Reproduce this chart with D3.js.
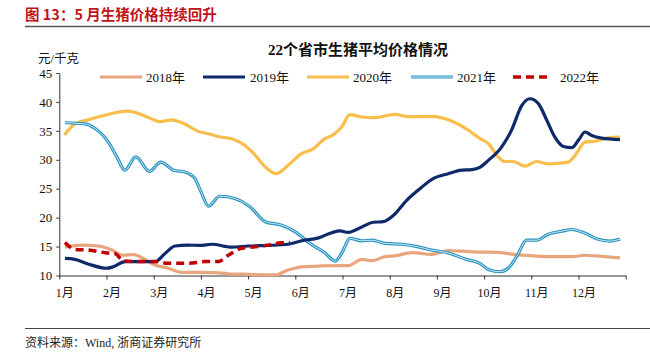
<!DOCTYPE html>
<html><head><meta charset="utf-8">
<script src="https://cdn.jsdelivr.net/npm/d3@7/dist/d3.min.js"></script>
<style>body{margin:0;background:#fff}svg{display:block}</style>
</head><body><svg id="c" width="650" height="360"></svg>
<script>
// month position (0 = start of Jan, 12 = end of Dec) and price (元/千克)
const monthLabels = ["1月","2月","3月","4月","5月","6月","7月","8月","9月","10月","11月","12月"];
const yTicks = [10,15,20,25,30,35,40,45];
const seriesNames = ["2018年","2019年","2020年","2021年","2022年"];

const x2018 = [0.12,0.47,0.83,1.07,1.36,1.57,1.78,2.03,2.31,2.59,2.98,3.3,3.58,4.0,4.57,4.85,5.14,5.56,5.95,6.12,6.41,6.62,6.9,7.11,7.47,7.89,8.24,8.53,8.91,9.3,9.58,9.87,10.36,10.86,11.14,11.49,11.88];
const y2018 = [14.95,15.25,15.1,14.6,13.5,13.6,12.95,11.8,11.25,10.55,10.55,10.5,10.3,10.2,10.1,10.95,11.5,11.65,11.7,11.7,12.8,12.55,13.25,13.4,13.95,13.65,14.3,14.2,14.05,14.0,13.7,13.5,13.25,13.25,13.5,13.3,13.05];

const x2019 = [0.12,0.33,0.61,1.0,1.14,1.39,1.67,2.03,2.24,2.45,2.73,2.98,3.23,3.65,4.0,4.43,4.85,5.14,5.49,5.77,5.95,6.12,6.41,6.65,6.86,7.08,7.36,7.64,7.92,8.24,8.53,8.74,8.91,9.09,9.37,9.58,9.8,9.97,10.15,10.33,10.5,10.68,10.86,11.0,11.14,11.28,11.49,11.88];
const y2019 = [12.95,12.8,12.0,11.25,11.5,12.4,12.4,12.4,13.8,15.1,15.25,15.2,15.4,14.9,15.1,15.2,15.4,16.0,16.5,17.4,17.7,17.45,18.4,19.2,19.3,20.4,23.0,25.0,26.75,27.6,28.2,28.3,28.7,29.9,32.2,35.1,39.4,40.55,39.7,36.8,33.9,32.3,32.1,33.4,34.8,34.2,33.75,33.5];

const x2020 = [0.11,0.33,0.61,0.97,1.43,1.6,1.89,2.13,2.38,2.63,2.95,3.16,3.44,3.65,3.93,4.15,4.36,4.6,4.85,5.14,5.35,5.63,5.8,5.98,6.16,6.41,6.69,7.11,7.39,7.89,8.31,8.67,8.91,9.09,9.3,9.44,9.62,9.87,10.11,10.36,10.78,10.93,11.14,11.35,11.63,11.88];
const y2020 = [34.3,36.2,36.9,37.7,38.4,38.2,37.3,36.6,36.9,36.3,34.9,34.5,33.9,33.65,32.5,30.8,28.8,27.6,29.05,31.1,31.75,33.65,34.3,35.65,37.8,37.4,37.3,37.85,37.45,37.5,36.7,35.1,33.7,32.8,30.5,29.7,29.7,28.9,29.7,29.3,29.6,30.8,33.05,33.2,33.8,33.9];

const x2021 = [0.12,0.54,0.76,1.04,1.22,1.39,1.62,1.91,2.15,2.42,2.66,2.87,3.0,3.16,3.4,3.72,4.04,4.36,4.71,5.0,5.31,5.63,5.84,5.98,6.16,6.41,6.62,6.9,7.25,7.61,7.89,8.24,8.6,8.91,9.09,9.34,9.51,9.69,9.9,10.11,10.36,10.64,10.86,11.14,11.42,11.67,11.88];
const y2021 = [36.4,36.2,35.4,33.05,30.5,28.2,30.5,28.0,29.6,28.2,27.9,26.8,24.5,22.0,23.7,23.3,21.9,19.3,18.7,17.55,15.55,13.9,12.5,13.8,16.4,16.0,16.1,15.55,15.4,14.95,14.4,13.9,12.85,12.1,11.05,10.65,11.25,13.25,16.1,16.1,17.15,17.65,17.95,17.3,16.25,15.95,16.3];

const x2022 = [0.12,0.33,0.61,0.97,1.18,1.36,1.67,2.03,2.31,2.73,3.09,3.37,3.58,3.86,4.15,4.43,4.71,4.89];
const y2022 = [15.7,14.5,14.4,13.95,13.8,12.5,12.4,12.4,12.1,12.1,12.4,12.4,13.5,14.7,14.95,15.25,15.65,15.65];

const svg = d3.select("#c");
const serif = "'Liberation Serif','Times New Roman',serif";
const cjk = "'Liberation Serif','Noto Sans CJK SC',serif";

const x = d3.scaleLinear().domain([0,12]).range([59.3,625.7]);
const y = d3.scaleLinear().domain([10,45]).range([275.5,73]);

// header
svg.append("text").attr("x",25).attr("y",20).attr("fill","#C0141C")
  .attr("font-family","'Noto Sans CJK SC',sans-serif").attr("font-weight","bold").attr("font-size",14.5)
  .text("图 13：5 月生猪价格持续回升");
svg.append("line").attr("x1",25).attr("x2",650).attr("y1",26.5).attr("y2",26.5).attr("stroke","#555").attr("stroke-width",1.3);

// title
svg.append("text").attr("x",358).attr("y",55).attr("text-anchor","middle")
  .attr("font-family",cjk).attr("font-weight","bold").attr("font-size",15).attr("fill","#111")
  .text("22个省市生猪平均价格情况");
svg.append("text").attr("x",38).attr("y",63).attr("font-family",cjk).attr("font-size",12.5).attr("fill","#111").text("元/千克");

// axes
const yAxis = svg.append("g").attr("transform","translate(59.3,0)")
  .call(d3.axisLeft(y).tickValues(yTicks).tickSize(3).tickSizeOuter(0).tickFormat(d3.format("d")));
yAxis.select(".domain").attr("stroke","#333");
yAxis.selectAll(".tick line").attr("stroke","#333");
yAxis.selectAll("text").attr("font-family",serif).attr("font-size",13).attr("fill","#111").attr("x",-7);

const xAxis = svg.append("g").attr("transform","translate(0,275.5)")
  .call(d3.axisBottom(x).tickValues(d3.range(0,13)).tickSize(4).tickSizeOuter(0).tickFormat(""));
xAxis.select(".domain").attr("stroke","#333");
xAxis.selectAll(".tick line").attr("stroke","#333");
svg.append("g").selectAll("text").data(monthLabels).join("text")
  .attr("x",(d,i)=>x(i)+5.5).attr("y",297).attr("text-anchor","middle")
  .attr("font-family",cjk).attr("font-size",12).attr("fill","#111").text(d=>d);

const line = d3.line().x(d=>x(d[0])).y(d=>y(d[1])).curve(d3.curveMonotoneX);
const pts = (xs,ys)=>xs.map((v,i)=>[v,ys[i]]);

const plot = svg.append("g");
plot.append("path").datum(pts(x2018,y2018)).attr("d",line).attr("fill","none").attr("stroke","#E8A67F").attr("stroke-width",3.2);
plot.append("path").datum(pts(x2020,y2020)).attr("d",line).attr("fill","none").attr("stroke","#F8BD4A").attr("stroke-width",3.2);
plot.append("path").datum(pts(x2021,y2021)).attr("d",line).attr("fill","none").attr("stroke","#2792C0").attr("stroke-width",3.2);
plot.append("path").datum(pts(x2021,y2021)).attr("d",line).attr("fill","none").attr("stroke","#CFE8F3").attr("stroke-width",1);
plot.append("path").datum(pts(x2019,y2019)).attr("d",line).attr("fill","none").attr("stroke","#0E2A6A").attr("stroke-width",3.2);
plot.append("path").datum(pts(x2022,y2022)).attr("d",line).attr("fill","none").attr("stroke","#C00000").attr("stroke-width",3.5).attr("stroke-dasharray","8,5");

// legend
const leg = [
  {n:seriesNames[0],x1:100,x2:142,tx:146,c:"#E8A67F"},
  {n:seriesNames[1],x1:203,x2:245,tx:250,c:"#0E2A6A"},
  {n:seriesNames[2],x1:307,x2:349,tx:353,c:"#F8BD4A"},
  {n:seriesNames[3],x1:411,x2:453,tx:457,c:"#2792C0",inner:true},
  {n:seriesNames[4],x1:513,x2:552,tx:560,c:"#C00000",dash:true}
];
leg.forEach(l=>{
  const ln = svg.append("line").attr("x1",l.x1).attr("x2",l.x2).attr("y1",77).attr("y2",77)
    .attr("stroke",l.c).attr("stroke-width",l.dash?3.5:3.2);
  if(l.dash) ln.attr("stroke-dasharray","8,5");
  if(l.inner) svg.append("line").attr("x1",l.x1).attr("x2",l.x2).attr("y1",77).attr("y2",77).attr("stroke","#CFE8F3").attr("stroke-width",1);
  svg.append("text").attr("x",l.tx).attr("y",82).attr("font-family",cjk).attr("font-size",13).attr("fill","#111").text(l.n);
});

// footer
svg.append("line").attr("x1",25).attr("x2",650).attr("y1",328.5).attr("y2",328.5).attr("stroke","#444").attr("stroke-width",1.2);
svg.append("text").attr("x",25).attr("y",347).attr("font-family",cjk).attr("font-size",12).attr("fill","#222")
  .text("资料来源：Wind, 浙商证券研究所");
</script></body></html>
